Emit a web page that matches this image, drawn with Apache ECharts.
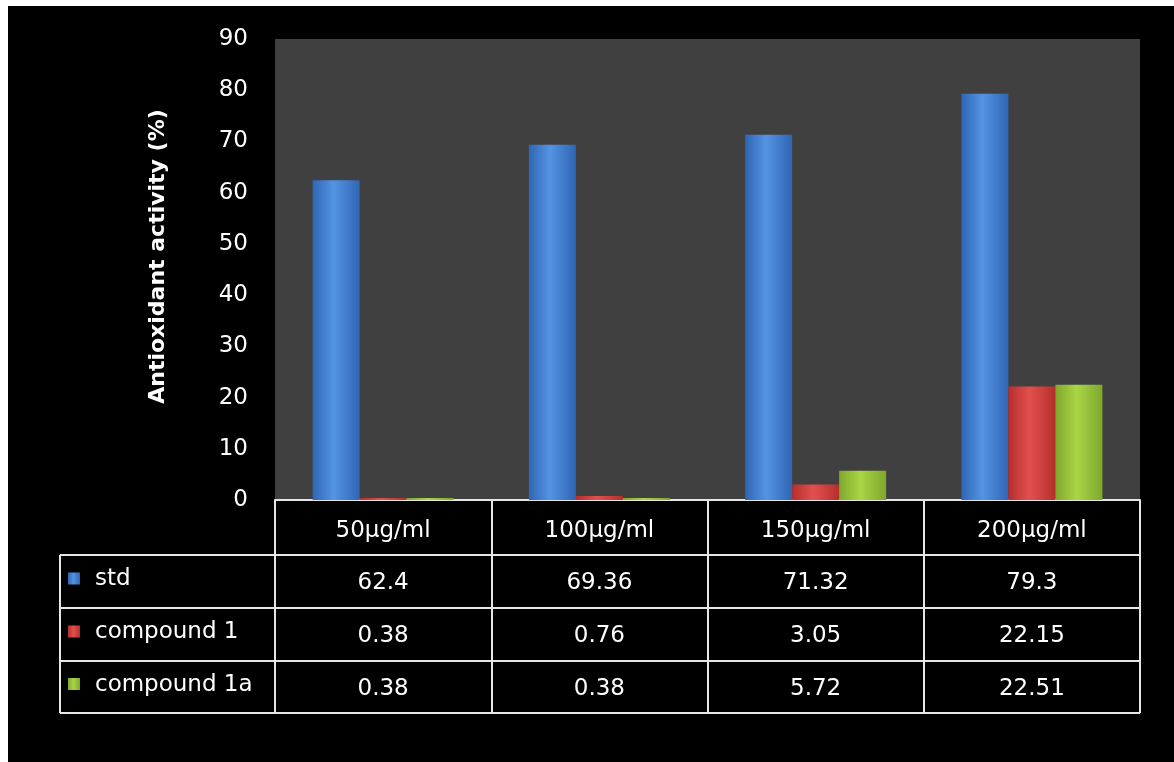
<!DOCTYPE html>
<html>
<head>
<meta charset="utf-8">
<script src="https://cdn.jsdelivr.net/npm/echarts@6/dist/echarts.min.js"></script>
<style>
html, body { margin: 0; padding: 0; background: #fff; }
#chart { position: absolute; left: 8px; top: 6px; width: 1166px; height: 756px; background: #000; }
</style>
</head>
<body>
<div id="chart"></div>
<script>
// data
var categories = ['50µg/ml', '100µg/ml', '150µg/ml', '200µg/ml'];
var seriesNames = ['std', 'compound 1', 'compound 1a'];
var stdValues = [62.4, 69.36, 71.32, 79.3];
var compound1Values = [0.38, 0.76, 3.05, 22.15];
var compound1aValues = [0.38, 0.38, 5.72, 22.51];
var yTicks = [0, 10, 20, 30, 40, 50, 60, 70, 80, 90];

var allValues = [stdValues, compound1Values, compound1aValues];
var fontName = '"DejaVu Sans", sans-serif';

// colours for 3d-ish bars: [dark, light]
var barColors = [
	['#2f66b3', '#5593e3'],
	['#b52f2d', '#e2504d'],
	['#7fa82c', '#a9d546']
];
function grad(c) {
	return new echarts.graphic.LinearGradient(0, 0, 1, 0, [
		{ offset: 0, color: c[0] },
		{ offset: 0.45, color: c[1] },
		{ offset: 1, color: c[0] }
	]);
}

var myChart = echarts.init(document.getElementById('chart'));

var option = {
	backgroundColor: '#000',
	animation: false,
	grid: {
		left: 267,
		right: 34,
		top: 33,
		bottom: 262,
		show: true,
		backgroundColor: '#404040',
		borderWidth: 0
	},
	xAxis: {
		type: 'category',
		data: categories,
		axisLine: { show: true, lineStyle: { color: '#e6e6e6', width: 2 } },
		axisTick: { show: true, length: 213, lineStyle: { color: '#e6e6e6', width: 2 } },
		axisLabel: { color: '#fff', fontSize: 23, fontFamily: fontName, margin: 20 }
	},
	yAxis: {
		type: 'value',
		min: yTicks[0],
		max: yTicks[yTicks.length - 1],
		interval: 10,
		name: 'Antioxidant activity (%)',
		nameLocation: 'middle',
		nameRotate: 90,
		nameGap: 106,
		nameTextStyle: { color: '#fff', fontSize: 22, fontWeight: 'bold', fontFamily: fontName, padding: [0, 0, 0, 26] },
		axisLine: { show: false },
		axisTick: { show: false },
		splitLine: { show: false },
		axisLabel: { color: '#fff', fontSize: 23, fontFamily: fontName, margin: 27 }
	},
	series: []
};

for (var i = 0; i < seriesNames.length; i++) {
	option.series.push({
		name: seriesNames[i],
		type: 'bar',
		data: allValues[i],
		barWidth: 47,
		barGap: '0%',
		itemStyle: { color: grad(barColors[i]) }
	});
}
myChart.setOption(option);

// table under the axis
function buildTable() {
	var rowTops = [549, 602, 655, 707];
	var leftX = 52;
	var c0 = myChart.convertToPixel({ gridIndex: 0 }, [0, 0])[0];
	var c1 = myChart.convertToPixel({ gridIndex: 0 }, [1, 0])[0];
	var cLast = myChart.convertToPixel({ gridIndex: 0 }, [categories.length - 1, 0])[0];
	var rightX = cLast + (c1 - c0) / 2;
	var els = [];
	var lineStyle = { stroke: '#e6e6e6', lineWidth: 2 };
	for (var r = 0; r < rowTops.length; r++) {
		els.push({ type: 'line', shape: { x1: leftX, y1: rowTops[r], x2: rightX, y2: rowTops[r] }, style: lineStyle });
	}
	els.push({ type: 'line', shape: { x1: leftX, y1: rowTops[0], x2: leftX, y2: rowTops[3] }, style: lineStyle });
	for (var s = 0; s < seriesNames.length; s++) {
		var cy = (rowTops[s] + rowTops[s + 1]) / 2;
		els.push({
			type: 'rect',
			shape: { x: leftX + 8, y: cy - 9, width: 12, height: 12 },
			style: { fill: grad(barColors[s]) }
		});
		els.push({
			type: 'text',
			x: leftX + 35, y: cy - 2,
			style: { text: seriesNames[s], fill: '#fff', fontSize: 23, fontFamily: fontName, verticalAlign: 'middle' }
		});
		for (var c = 0; c < categories.length; c++) {
			var cx = myChart.convertToPixel({ gridIndex: 0 }, [c, 0])[0];
			els.push({
				type: 'text',
				x: cx, y: cy + 2,
				style: { text: String(allValues[s][c]), fill: '#fff', fontSize: 23, fontFamily: fontName, align: 'center', verticalAlign: 'middle' }
			});
		}
	}
	myChart.setOption({ graphic: els });
}
buildTable();
</script>
</body>
</html>
